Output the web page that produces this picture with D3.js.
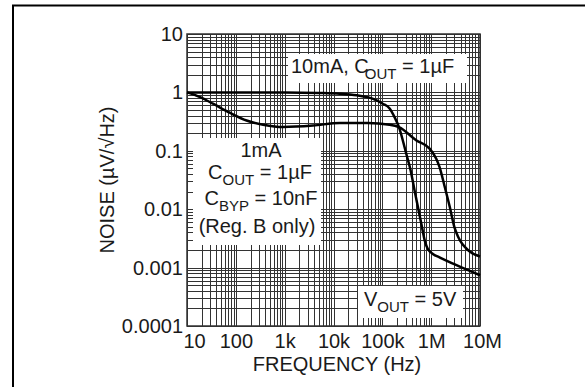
<!DOCTYPE html>
<html lang="en">
<head>
<meta charset="UTF-8">
<title>Noise vs Frequency</title>
<script src="https://d3js.org/d3.v7.min.js"></script>
<style>
  body { margin: 0; background: #fff; }
  text { font-family: "Liberation Sans", Arial, sans-serif; fill: #1a1a1a; }
</style>
</head>
<body>
<svg id="chart" width="585" height="387"></svg>
<script>
// 10mA, COUT = 1uF curve
var freqHigh = [10, 100, 1000, 5000, 13500, 30000, 63000, 102000, 141000, 178000, 219000, 309000, 380000, 457000, 630000, 740000, 850000, 1100000, 1480000, 3300000, 10000000];
var noiseHigh = [1.0, 1.0, 1.0, 0.98, 0.95, 0.89, 0.78, 0.64, 0.53, 0.377, 0.255, 0.089, 0.046, 0.021, 0.0056, 0.0029, 0.0021, 0.0017, 0.0015, 0.0011, 0.00074];

// 1mA, COUT = 1uF, CBYP = 10nF curve
var freqLow = [10, 18.5, 34, 75, 166, 363, 935, 3800, 13500, 50000, 141000, 219000, 500000, 930000, 1270000, 1480000, 1900000, 2400000, 3000000, 3600000, 6100000, 10000000];
var noiseLow = [1.0, 0.83, 0.64, 0.45, 0.33, 0.28, 0.255, 0.27, 0.30, 0.30, 0.28, 0.255, 0.15, 0.109, 0.073, 0.053, 0.024, 0.011, 0.0049, 0.0033, 0.0019, 0.00155];

var xTicks = [10, 100, 1e3, 1e4, 1e5, 1e6, 1e7];
var xTickLabels = ["10", "100", "1k", "10k", "100k", "1M", "10M"];
var yTicks = [0.0001, 0.001, 0.01, 0.1, 1, 10];
var yTickLabels = ["0.0001", "0.001", "0.01", "0.1", "1", "10"];

var fs = 20, subFs = 15;

var svg = d3.select("#chart");

// outer frame
svg.append("rect")
    .attr("x", 13).attr("y", 5.5)
    .attr("width", 700).attr("height", 500)
    .attr("fill", "none").attr("stroke", "#000").attr("stroke-width", 2);

var plotLeft = 187, plotRight = 480, plotTop = 34, plotBottom = 326;

var x = d3.scaleLog().domain([10, 1e7]).range([plotLeft, plotRight]);
var y = d3.scaleLog().domain([0.0001, 10]).range([plotBottom, plotTop]);

// log grid
var grid = svg.append("g").attr("stroke", "#333").attr("stroke-width", 1);
grid.selectAll(".gx").data(x.ticks()).enter().append("line")
    .attr("x1", d => Math.round(x(d)) + 0.5).attr("x2", d => Math.round(x(d)) + 0.5)
    .attr("y1", plotTop).attr("y2", plotBottom);
grid.selectAll(".gy").data(y.ticks()).enter().append("line")
    .attr("y1", d => Math.round(y(d)) + 0.5).attr("y2", d => Math.round(y(d)) + 0.5)
    .attr("x1", plotLeft).attr("x2", plotRight);

// white label boxes covering the grid
var boxes = [
    { x: 288, y: 54, w: 179, h: 29 },
    { x: 193, y: 138, w: 128, h: 107 },
    { x: 358, y: 286, w: 105, h: 32 }
];
svg.selectAll(".box").data(boxes).enter().append("rect")
    .attr("x", d => d.x).attr("y", d => d.y)
    .attr("width", d => d.w).attr("height", d => d.h)
    .attr("fill", "#fff");

// plot border
svg.append("rect")
    .attr("x", plotLeft).attr("y", plotTop)
    .attr("width", plotRight - plotLeft).attr("height", plotBottom - plotTop)
    .attr("fill", "none").attr("stroke", "#333").attr("stroke-width", 1.5);

// curves
var line = d3.line()
    .x(d => x(d[0])).y(d => y(d[1]))
    .curve(d3.curveMonotoneX);

svg.append("path")
    .datum(d3.zip(freqHigh, noiseHigh))
    .attr("d", line)
    .attr("fill", "none").attr("stroke", "#000").attr("stroke-width", 2.5);

svg.append("path")
    .datum(d3.zip(freqLow, noiseLow))
    .attr("d", line)
    .attr("fill", "none").attr("stroke", "#000").attr("stroke-width", 2.5);

// axes (labels only)
var xAxis = svg.append("g")
    .attr("transform", "translate(0," + plotBottom + ")")
    .call(d3.axisBottom(x).tickValues(xTicks).tickSize(0).tickPadding(8)
        .tickFormat((d, i) => xTickLabels[i]));
xAxis.select(".domain").remove();
xAxis.selectAll("text")
    .attr("font-size", fs).attr("font-family", null)
    .attr("dx", (d, i) => i === 0 ? 7 : (i === 6 ? 2 : 0));

var yAxis = svg.append("g")
    .attr("transform", "translate(" + 183 + ",0)")
    .call(d3.axisLeft(y).tickValues(yTicks).tickSize(0).tickPadding(0)
        .tickFormat((d, i) => yTickLabels[i]));
yAxis.select(".domain").remove();
yAxis.selectAll("text").attr("font-size", fs).attr("font-family", null);

// axis titles
svg.append("text")
    .attr("x", 337).attr("y", 371)
    .attr("text-anchor", "middle").attr("font-size", fs)
    .text("FREQUENCY (Hz)");

svg.append("text")
    .attr("transform", "translate(114,180) rotate(-90)")
    .attr("text-anchor", "middle").attr("font-size", fs)
    .text("NOISE (µV/√Hz)");

// annotations
function labelWithSub(x0, y0, anchor, pre, sub, post, subDx) {
    var t = svg.append("text")
        .attr("x", x0).attr("y", y0)
        .attr("text-anchor", anchor).attr("font-size", fs);
    t.append("tspan").text(pre);
    t.append("tspan").attr("font-size", subFs).attr("dy", 6).attr("dx", subDx).text(sub);
    t.append("tspan").attr("dy", -6).text(post);
}

labelWithSub(291, 73, "start", "10mA, C", "OUT", " = 1µF", -4);

svg.append("text")
    .attr("x", 261).attr("y", 157)
    .attr("text-anchor", "middle").attr("font-size", fs)
    .text("1mA");
labelWithSub(260, 179, "middle", "C", "OUT", " = 1µF", 0);
labelWithSub(261, 205, "middle", "C", "BYP", " = 10nF", 0);
svg.append("text")
    .attr("x", 257).attr("y", 233)
    .attr("text-anchor", "middle").attr("font-size", fs)
    .text("(Reg. B only)");

labelWithSub(364, 306, "start", "V", "OUT", " = 5V", 0);
</script>
</body>
</html>
